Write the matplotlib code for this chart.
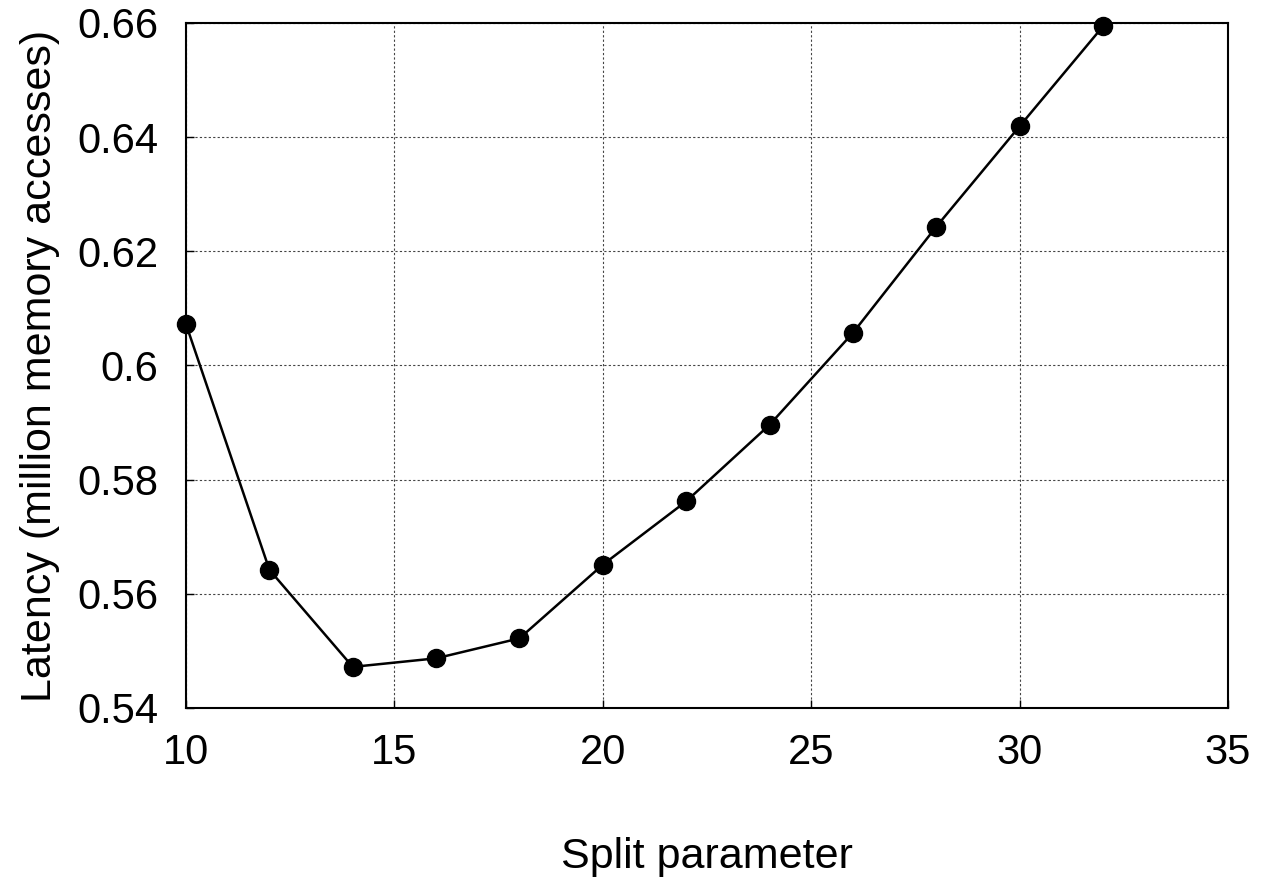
import matplotlib
matplotlib.use("Agg")
import matplotlib.pyplot as plt

split = [10, 12, 14, 16, 18, 20, 22, 24, 26, 28, 30, 32]
latency = [0.6072, 0.5642, 0.5472, 0.5487, 0.5522, 0.5651, 0.5762, 0.5896, 0.6057, 0.6243, 0.6419, 0.6594]
xticks = [10, 15, 20, 25, 30, 35]
yticks = [0.54, 0.56, 0.58, 0.6, 0.62, 0.64, 0.66]
ytick_labels = ["0.54", "0.56", "0.58", "0.6", "0.62", "0.64", "0.66"]

plt.rcParams['font.family'] = ['Liberation Sans', 'DejaVu Sans']

fig = plt.figure(figsize=(12.64, 8.83), dpi=100)
ax = fig.add_axes([0.1472, 0.1982, 0.8243, 0.7758])

ax.plot(split, latency, color='black', lw=1.8, marker='o', markersize=13,
        clip_on=False, zorder=3)

ax.set_xlim(10, 35)
ax.set_ylim(0.54, 0.66)
ax.set_xticks(xticks)
ax.set_yticks(yticks)
ax.set_yticklabels(ytick_labels)
ax.grid(True, color='#444444', linestyle=(0, (2, 2)), linewidth=0.8)
ax.tick_params(direction='in', length=6, width=1, labelsize=30)
ax.tick_params(axis='x', pad=18)
ax.tick_params(axis='y', pad=20)
for s in ax.spines.values():
    s.set_linewidth(1.5)

ax.set_xlabel('Split parameter', fontsize=31, labelpad=46)
ax.set_ylabel('Latency (million memory accesses)', fontsize=31, labelpad=12)

fig.savefig('out.png', dpi=100)
